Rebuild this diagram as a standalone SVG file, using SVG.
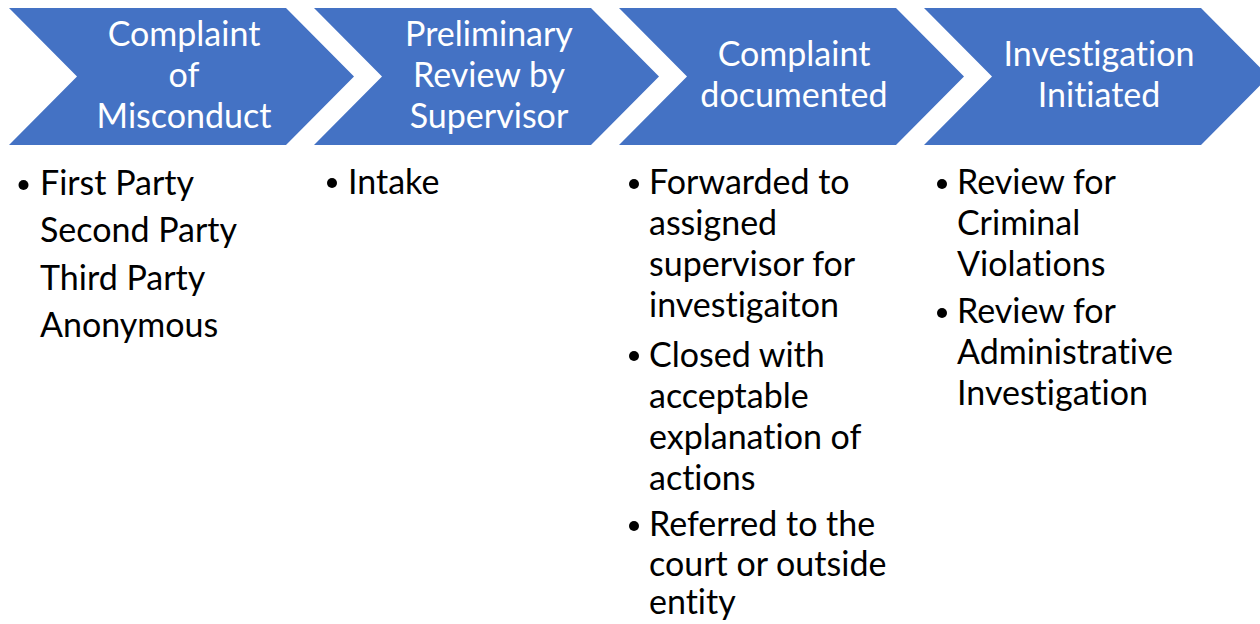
<svg xmlns="http://www.w3.org/2000/svg" width="1260" height="624" viewBox="0 0 1260 624">
  <defs>
    <style>
      .chev { fill: #4472C4; }
      .head { font-family: Lato, "Open Sans", sans-serif; font-size: 34px; fill: #FFFFFF; text-anchor: middle; font-variant-ligatures: none; }
      .body { font-family: Lato, "Open Sans", sans-serif; font-size: 34px; fill: #000000; font-variant-ligatures: none; }
      .dot { fill: #000000; }
    </style>
    <!-- one chevron step, 345 wide, 137 high, 68 deep -->
    <path id="chevron" d="M0,0 H277 L345,68.5 L277,137 H0 L68,68.5 Z"/>
  </defs>
  <rect width="1260" height="624" fill="#FFFFFF"/>

  <g id="step1">
    <use href="#chevron" class="chev" x="9" y="8"/>
    <text class="head"><tspan x="184" y="46">Complaint</tspan><tspan x="184" y="87">of</tspan><tspan x="184" y="128">Misconduct</tspan></text>
    <circle class="dot" cx="23.5" cy="185" r="5"/>
    <text class="body"><tspan x="40" y="195">First Party</tspan><tspan x="40" y="242">Second Party</tspan><tspan x="40" y="290">Third Party</tspan><tspan x="40" y="337">Anonymous</tspan></text>
  </g>

  <g id="step2">
    <use href="#chevron" class="chev" x="314" y="8"/>
    <text class="head"><tspan x="489" y="46">Preliminary</tspan><tspan x="489" y="87">Review by</tspan><tspan x="489" y="128">Supervisor</tspan></text>
    <circle class="dot" cx="332" cy="183" r="5"/>
    <text class="body"><tspan x="348" y="194">Intake</tspan></text>
  </g>

  <g id="step3">
    <use href="#chevron" class="chev" x="619" y="8"/>
    <text class="head"><tspan x="794" y="66">Complaint</tspan><tspan x="794" y="107">documented</tspan></text>
    <circle class="dot" cx="634" cy="184" r="5"/>
    <text class="body"><tspan x="649" y="194">Forwarded to</tspan><tspan x="649" y="235">assigned</tspan><tspan x="649" y="276">supervisor for</tspan><tspan x="649" y="317">investigaiton</tspan></text>
    <circle class="dot" cx="634" cy="356" r="5"/>
    <text class="body"><tspan x="649" y="367">Closed with</tspan><tspan x="649" y="408">acceptable</tspan><tspan x="649" y="449">explanation of</tspan><tspan x="649" y="490">actions</tspan></text>
    <circle class="dot" cx="634" cy="526" r="5"/>
    <text class="body"><tspan x="649" y="536">Referred to the</tspan><tspan x="649" y="576">court or outside</tspan><tspan x="649" y="614">entity</tspan></text>
  </g>

  <g id="step4">
    <use href="#chevron" class="chev" x="924" y="8"/>
    <text class="head"><tspan x="1099" y="66">Investigation</tspan><tspan x="1099" y="107">Initiated</tspan></text>
    <circle class="dot" cx="942" cy="184" r="5"/>
    <text class="body"><tspan x="957" y="194">Review for</tspan><tspan x="957" y="235">Criminal</tspan><tspan x="957" y="276">Violations</tspan></text>
    <circle class="dot" cx="942" cy="313" r="5"/>
    <text class="body"><tspan x="957" y="323">Review for</tspan><tspan x="957" y="364">Administrative</tspan><tspan x="957" y="405">Investigation</tspan></text>
  </g>

  <!-- the steps are joined by their shapes alone; no separate connector lines -->
  <g id="connectors"/>
</svg>
